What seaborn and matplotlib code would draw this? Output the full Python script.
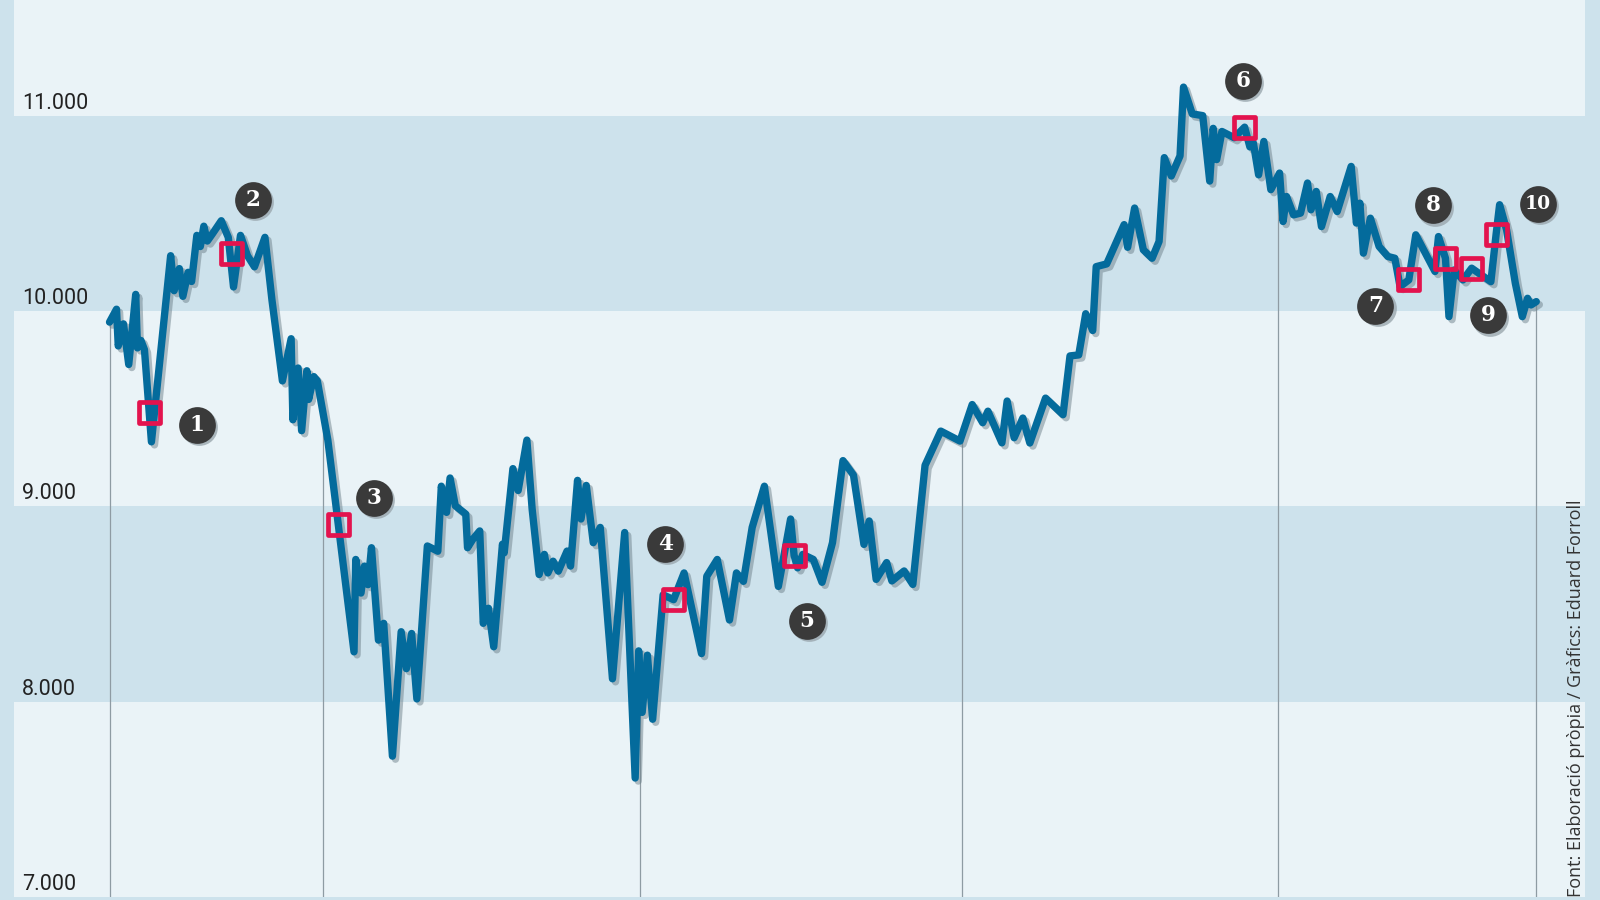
"""
Evolució de l'índex amb els esdeveniments numerats (1-10) marcats sobre la línia.
"""

import numpy as np
import pandas as pd
import matplotlib.pyplot as plt
import matplotlib.dates as mdates
import matplotlib.patheffects as pe
from matplotlib.transforms import ScaledTranslation, blended_transform_factory
import seaborn as sns

# Data (days counted from 1 Sept 2015)
start_date = pd.Timestamp("2015-09-01")

days = [0, 4, 5, 8, 11, 15, 16, 18, 20, 24, 35, 37, 40, 42, 45, 47, 50, 52, 54, 56,
        59, 64, 68, 71, 75, 79, 83, 89, 93, 99, 104, 105, 108, 110, 113, 114, 117, 119,
        125, 131, 140, 141, 144, 146, 148, 150, 154, 157, 162, 167, 170, 173, 176, 182,
        188, 190, 193, 195, 198, 204, 205, 208, 212, 214, 217, 220, 225, 226, 231, 234,
        239, 242, 246, 249, 251, 254, 257, 262, 264, 268, 270, 273, 277, 281, 288, 295,
        301, 303, 305, 308, 311, 317, 323, 329, 339, 342, 348, 355, 359, 363, 368, 375,
        383, 390, 392, 394, 397, 403, 408, 414, 420, 426, 432, 435, 439, 445, 448, 455,
        460, 467, 476, 487, 494, 500, 503, 511, 514, 518, 523, 527, 536, 546, 550, 555,
        559, 563, 565, 571, 581, 583, 587, 592, 597, 601, 604, 608, 613, 615, 620, 626,
        630, 632, 634, 637, 644, 650, 653, 655, 658, 661, 665, 670, 672, 674, 678, 682,
        686, 688, 691, 694, 699, 703, 711, 714, 716, 718, 722, 727, 732, 736, 739, 744,
        748, 759, 761, 765, 767, 770, 775, 780, 791, 794, 796, 800, 805, 809, 812, 814,
        817]

values = [9943, 10009, 9821, 9934, 9726, 10085, 9811, 9849, 9802, 9330, 10283, 10104,
          10217, 10075, 10198, 10151, 10387, 10330, 10434, 10358, 10396, 10462, 10377,
          10123, 10387, 10283, 10226, 10377, 10057, 9642, 9858, 9443, 9708, 9387, 9694,
          9547, 9664, 9642, 9340, 8906, 8255, 8728, 8556, 8694, 8599, 8788, 8315, 8401,
          7721, 8358, 8169, 8349, 8014, 8797, 8770, 9103, 8969, 9145, 9003, 8960, 8788,
          8831, 8874, 8401, 8478, 8281, 8806, 8762, 9193, 9081, 9339, 8986, 8651, 8754,
          8659, 8719, 8668, 8771, 8694, 9133, 8935, 9107, 8814, 8892, 8117, 8866, 7609,
          8260, 7945, 8238, 7910, 8547, 8522, 8659, 8246, 8642, 8728, 8418, 8659, 8616,
          8892, 9103, 8590, 8935, 8749, 8685, 8754, 8728, 8611, 8814, 9234, 9160, 8805,
          8925, 8626, 8712, 8618, 8669, 8600, 9210, 9385, 9334, 9521, 9428, 9487, 9325,
          9539, 9351, 9452, 9324, 9554, 9469, 9770, 9775, 9986, 9900, 10227, 10241,
          10442, 10326, 10527, 10313, 10270, 10356, 10785, 10691, 10794, 11146, 11009,
          11000, 10665, 10935, 10775, 10919, 10887, 10941, 10840, 10860, 10697, 10868,
          10621, 10706, 10458, 10586, 10492, 10501, 10655, 10518, 10612, 10432, 10586,
          10509, 10740, 10450, 10552, 10296, 10475, 10330, 10279, 10270, 10125, 10159,
          10390, 10202, 10381, 10270, 9971, 10210, 10159, 10219, 10150, 10393, 10544,
          10415, 10142, 9971, 10065, 10031, 10048]

event_labels = ["1", "2", "3", "4", "5", "6", "7", "8", "9", "10"]
event_days = [23, 70, 131, 323, 392, 650, 744, 765, 780, 794]
event_values = [9480, 10292, 8906, 8522, 8749, 10941, 10159, 10270, 10219, 10393]
# where each numbered circle sits relative to its marker (points)
label_offsets = [(34, -9), (15, 39), (26, 19), (-6, 40), (9, -47),
                 (-1, 33), (-24, -19), (-9, 38), (12, -34), (30, 22)]

ytick_values = [7000, 8000, 9000, 10000, 11000]
ytick_labels = ["7.000", "8.000", "9.000", "10.000", "11.000"]
dark_bands = [(8000, 9000), (10000, 11000)]
drop_line_dates = ["2016-01-01", "2016-07-01", "2017-01-01", "2017-07-01"]

source_text = "Font: Elaboració pròpia / Gràfics: Eduard Forroll"

LIGHT = "#eaf3f7"
DARK = "#cde2ec"
LINE = "#046b9c"
RED = "#e3134e"
CIRCLE = "#3a3a3a"

sns.set_theme(style="white")
plt.rcParams["font.family"] = ["Roboto", "DejaVu Sans"]

dates = start_date + pd.to_timedelta(days, unit="D")
df = pd.DataFrame({"date": dates, "value": values})
ev_dates = start_date + pd.to_timedelta(event_days, unit="D")

fig = plt.figure(figsize=(16, 9), dpi=100, facecolor=DARK)
ax = fig.add_axes([14 / 1600, 3 / 900, 1571 / 1600, 897 / 900])
ax.set_facecolor(LIGHT)
for lo, hi in dark_bands:
    ax.axhspan(lo, hi, color=DARK, lw=0, zorder=0)

# thin drop lines from the curve down to the bottom
num_days = mdates.date2num(dates)
drops = [dates[0], dates[-1]] + [pd.Timestamp(d) for d in drop_line_dates]
for d in drops:
    top = np.interp(mdates.date2num(d), num_days, values)
    ax.vlines(d, 6900, top, color="#8e9ba3", lw=0.9, zorder=1)

sns.lineplot(data=df, x="date", y="value", ax=ax, color=LINE, lw=5.3,
             sort=False, estimator=None, zorder=3,
             solid_joinstyle="round", solid_capstyle="round",
             path_effects=[pe.SimpleLineShadow(offset=(2.2, -2.2), shadow_color="#6f828c", alpha=0.5),
                           pe.Normal()])

ax.scatter(ev_dates, event_values, marker="s", s=230, facecolors="none",
           edgecolors=RED, linewidths=3.4, zorder=4)

ev_num = mdates.date2num(ev_dates)
for lab, x, y, (dx, dy) in zip(event_labels, ev_num, event_values, label_offsets):
    trans = ax.transData + ScaledTranslation(dx / 72, dy / 72, fig.dpi_scale_trans)
    shadow = trans + ScaledTranslation(1.5 / 72, -1.5 / 72, fig.dpi_scale_trans)
    ax.scatter([x], [y], s=700, color="#9aa7ae", alpha=0.8, lw=0, transform=shadow, zorder=5)
    ax.scatter([x], [y], s=700, color=CIRCLE, lw=0, transform=trans, zorder=6)
    ax.text(x, y, lab, transform=trans, ha="center", va="center", color="white",
            fontsize=15.5 if len(lab) == 1 else 13.5, family="DejaVu Serif",
            weight="bold", zorder=7)

# y labels sit inside the plot, just above each band edge
blend = blended_transform_factory(ax.transAxes, ax.transData)
for v, lab in zip(ytick_values, ytick_labels):
    ax.annotate(lab, xy=(0, v), xycoords=blend, xytext=(6, 5), textcoords="offset points",
                ha="left", va="baseline", fontsize=15.5, color="#222222")

ax.text(1.0, 0.0, source_text, transform=ax.transAxes, rotation=90,
        ha="right", va="bottom", fontsize=13, color="#333333",
        family=["Open Sans", "DejaVu Sans"])

ax.set_ylim(7000, 11592)
ax.set_xlim(start_date + pd.Timedelta(days=-54.7), start_date + pd.Timedelta(days=844.9))
ax.set_xticks([])
ax.set_yticks([])
ax.set_xlabel("")
ax.set_ylabel("")
for s in ax.spines.values():
    s.set_visible(False)

fig.savefig("out.png", dpi=100, facecolor=DARK)
plt.close(fig)
